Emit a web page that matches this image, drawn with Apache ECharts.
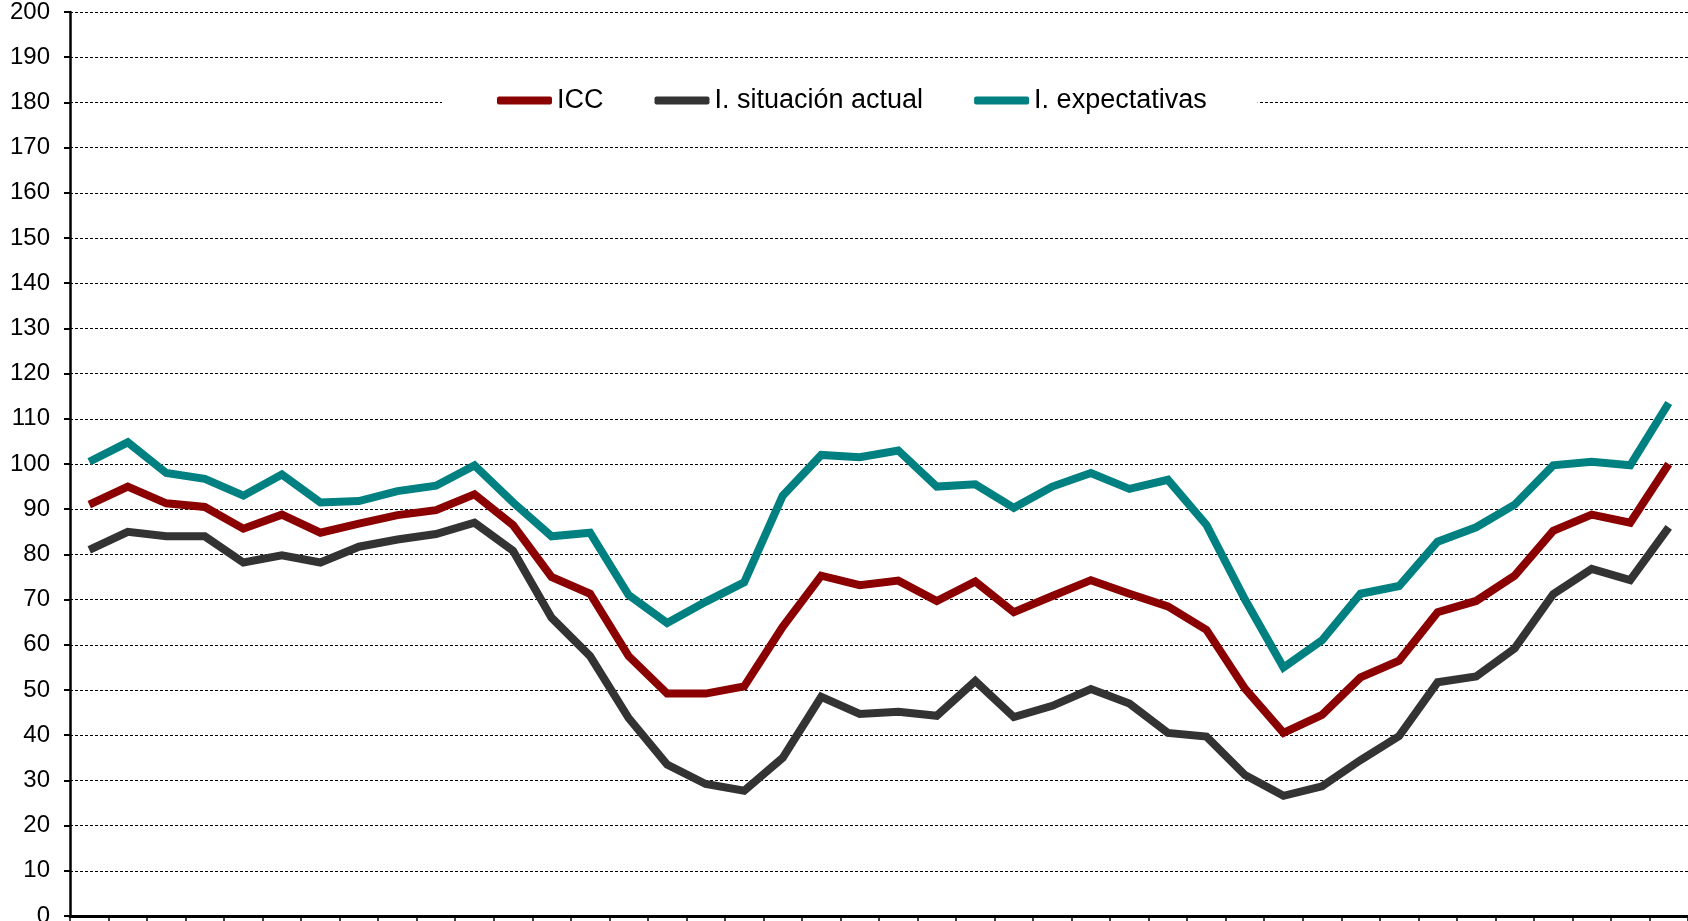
<!DOCTYPE html>
<html>
<head>
<meta charset="utf-8">
<script src="https://cdn.jsdelivr.net/npm/echarts@6/dist/echarts.min.js"></script>
<style>
html,body{margin:0;padding:0;background:#fff;}
#chart{width:1688px;height:921px;}
</style>
</head>
<body>
<div id="chart"></div>
<script>
// Periods (no labels visible in the reference)
const categories = Array.from({length: 42}, (_, i) => String(i + 1));

const icc = [91, 95, 91.3, 90.5, 85.7, 88.8, 84.8, 86.8, 88.7, 89.8, 93.3, 86.5, 75, 71.3, 57.5, 49.2, 49.2, 50.8, 64, 75.3, 73.2, 74.2, 69.7, 74, 67.2, 70.8, 74.3, 71.3, 68.5, 63.3, 50.3, 40.5, 44.5, 52.8, 56.5, 67.2, 69.7, 75.3, 85.2, 88.8, 87, 100];
const situacionActual = [81, 85, 84, 84, 78.2, 79.8, 78.2, 81.7, 83.3, 84.5, 87, 80.8, 66, 57.5, 43.8, 33.5, 29.2, 27.7, 35, 48.5, 44.7, 45.2, 44.3, 52, 44, 46.5, 50.2, 47, 40.5, 39.7, 31.2, 26.6, 28.7, 34.5, 39.8, 51.7, 53, 59.2, 71.2, 76.8, 74.3, 86];
const expectativas = [100.5, 104.8, 98, 96.7, 93, 97.7, 91.5, 91.8, 94, 95.2, 99.7, 91.5, 84, 84.8, 71, 64.8, 69.5, 73.8, 93, 102, 101.5, 103, 95, 95.5, 90.3, 95, 98, 94.5, 96.5, 86.5, 70, 55, 61, 71.3, 73, 82.8, 86, 91, 99.7, 100.5, 99.7, 113.5];

const seriesNames = ['ICC', 'I. situación actual', 'I. expectativas'];
const seriesColors = ['#8b0000', '#333333', '#008080'];
const seriesData = [icc, situacionActual, expectativas];

const chart = echarts.init(document.getElementById('chart'));
chart.setOption({
  animation: false,
  backgroundColor: '#fff',
  textStyle: { fontFamily: 'Liberation Sans, Arial, sans-serif' },
  grid: { left: 70, right: 0, top: 12, bottom: 5, containLabel: false, outerBoundsMode: 'none' },
  legend: {
    data: seriesNames,
    left: 442,
    top: 81,
    backgroundColor: '#fff',
    padding: [6, 51, 6, 55],
    itemWidth: 55,
    itemHeight: 8,
    itemGap: 51,
    icon: 'roundRect',
    textStyle: { fontSize: 27, color: '#000', fontFamily: 'Liberation Sans, Arial, sans-serif' },
    z: 10
  },
  xAxis: {
    type: 'category',
    data: categories,
    boundaryGap: true,
    axisLine: { lineStyle: { color: '#000', width: 3 } },
    axisTick: { show: true, length: 6, lineStyle: { color: '#000', width: 1.5 } },
    axisLabel: { show: false },
    splitLine: { show: false }
  },
  yAxis: {
    type: 'value',
    min: 0,
    max: 200,
    interval: 10,
    axisLine: { show: true, lineStyle: { color: '#000', width: 2.5 } },
    axisTick: { show: true, length: 6, lineStyle: { color: '#000', width: 2 } },
    axisLabel: { fontSize: 24, color: '#000', margin: 20 },
    splitLine: { show: true, lineStyle: { color: '#000', width: 1, type: [3, 2] } }
  },
  series: seriesNames.map((name, i) => ({
    name: name,
    type: 'line',
    data: seriesData[i],
    symbol: 'none',
    color: seriesColors[i],
    lineStyle: { width: 8, color: seriesColors[i], join: 'miter' }
  }))
});
</script>
</body>
</html>
